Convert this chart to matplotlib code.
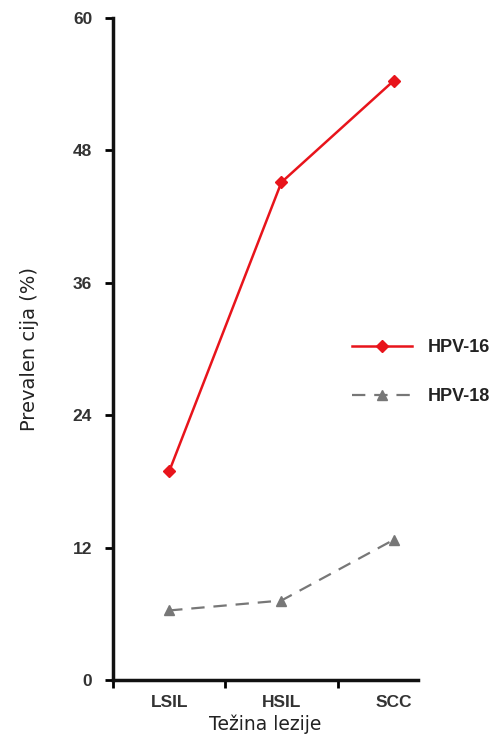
import matplotlib.pyplot as plt
from matplotlib.ticker import FixedLocator

categories = ['LSIL', 'HSIL', 'SCC']
hpv16 = [18.9, 45.1, 54.3]
hpv18 = [6.3, 7.2, 12.7]
yticks = [0, 12, 24, 36, 48, 60]

fig = plt.figure(figsize=(4.98, 7.46), dpi=100)
ax = fig.add_axes([0.227, 0.0885, 0.613, 0.8875])

xpos = [0.5, 1.5, 2.5]
ax.plot(xpos, hpv16, color='#e8141b', lw=1.8, marker='D', ms=6,
        label='HPV-16')
ax.plot(xpos, hpv18, color='#777777', lw=1.6, ls=(0, (6, 4)), marker='^',
        ms=7, label='HPV-18')

ax.set_xlim(0, 2.72)
ax.set_ylim(0, 60)
ax.set_yticks(yticks)
ax.xaxis.set_major_locator(FixedLocator([0, 1, 2]))
ax.xaxis.set_minor_locator(FixedLocator(xpos))
ax.set_xticklabels([])
ax.set_xticklabels(categories, minor=True)
ax.tick_params(axis='x', which='minor', length=0, pad=11)
ax.tick_params(axis='both', which='major', length=6, width=2, direction='out')
ax.tick_params(axis='y', which='major', pad=9)
for lab in ax.get_xticklabels(minor=True) + ax.get_yticklabels():
    lab.set_fontfamily('Liberation Sans')
    lab.set_fontweight('bold')
    lab.set_fontsize(12.5)
    lab.set_color('#333333')

for side in ['top', 'right']:
    ax.spines[side].set_visible(False)
for side in ['left', 'bottom']:
    ax.spines[side].set_linewidth(2.5)
    ax.spines[side].set_color('#111111')

ax.set_ylabel('Prevalen cija (%)', fontsize=14, family='DejaVu Sans',
              color='#222222', labelpad=24)
ax.set_xlabel('Težina lezije', fontsize=13.5, family='DejaVu Sans',
              color='#222222', labelpad=3)

leg = ax.legend(loc='center left', bbox_to_anchor=(0.73, 0.465), frameon=False,
                handlelength=3.3, handletextpad=0.9, labelspacing=1.75,
                prop={'family': 'Liberation Sans', 'weight': 'bold', 'size': 13})
for t in leg.get_texts():
    t.set_color('#222222')

fig.savefig('out.png', dpi=100)
